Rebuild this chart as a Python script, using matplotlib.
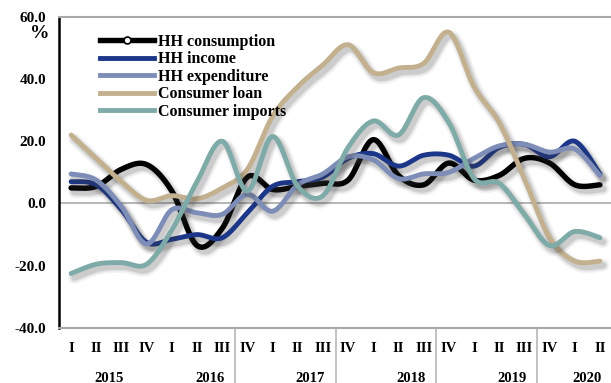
import numpy as np
import matplotlib
matplotlib.use("Agg")
import matplotlib.pyplot as plt
from matplotlib import patheffects as pe
from matplotlib.lines import Line2D
from matplotlib.transforms import blended_transform_factory

# ---- data (year-on-year growth, %) ----
quarters = ["I", "II", "III", "IV", "I", "II", "III", "IV", "I", "II", "III",
            "IV", "I", "II", "III", "IV", "I", "II", "III", "IV", "I", "II"]
years = ["2015", "2016", "2017", "2018", "2019", "2020"]
year_pos = [1.5, 5.5, 9.5, 13.5, 17.5, 20.5]
group_breaks = [6.5, 10.5, 14.5, 18.5]

hh_consumption = [5, 5.5, 11, 12.5, 4, -13.5, -8, 8.5, 4.5, 5.5, 6.5,
                  7.5, 20.5, 9, 6, 13, 7.5, 9, 14.5, 13, 6, 6]
hh_income = [7, 6, -2, -12.5, -11.5, -10, -11, -3, 5.5, 7, 8.5,
             14.5, 16, 12, 15.5, 15.5, 12, 18, 19, 15, 20, 9.5]
hh_expenditure = [9.5, 7.5, -1, -13, -2, -3, -3.5, 3, -2.5, 6, 9.5,
                  15, 14, 8, 9.5, 10, 14.5, 18.5, 19, 16.5, 17.5, 9]
consumer_loan = [22, 14.5, 7, 1, 2.5, 1.5, 5, 11, 28, 37.5, 44.5,
                 51, 42, 43.5, 45, 55, 37.5, 26, 8, -11, -18.5, -18.5]
consumer_imports = [-22.5, -19.5, -19, -19.5, -8.5, 7, 20, 4, 21.5, 5.5, 2.5,
                    18, 26.5, 22, 34, 26, 8, 6.5, -3.5, -13.5, -9, -11]

series = [
    ("HH consumption", hh_consumption, "#000000"),
    ("HH income", hh_income, "#1c3689"),
    ("HH expenditure", hh_expenditure, "#7d8db8"),
    ("Consumer loan", consumer_loan, "#c3b08e"),
    ("Consumer imports", consumer_imports, "#7eaaa7"),
]

SERIF = ["Liberation Serif", "DejaVu Serif"]


def smooth(values, steps=30):
    """Bezier smoothing through every point (spreadsheet-style smoothed line)."""
    y = np.asarray(values, dtype=float)
    x = np.arange(len(y), dtype=float)
    px = np.concatenate([[x[0]], x, [x[-1]]])
    py = np.concatenate([[y[0]], y, [y[-1]]])
    t = np.linspace(0.0, 1.0, steps, endpoint=False)
    xs, ys = [], []
    for i in range(len(y) - 1):
        for p, out in ((px, xs), (py, ys)):
            p0, p1, p2, p3 = p[i], p[i + 1], p[i + 2], p[i + 3]
            c1 = p1 + (p2 - p0) / 6.0
            c2 = p2 - (p3 - p1) / 6.0
            out.append((1 - t) ** 3 * p1 + 3 * (1 - t) ** 2 * t * c1
                       + 3 * (1 - t) * t ** 2 * c2 + t ** 3 * p2)
    xs.append([x[-1]])
    ys.append([y[-1]])
    return np.concatenate(xs), np.concatenate(ys)


W, H = 611, 383
fig = plt.figure(figsize=(W / 100, H / 100), dpi=100)
left, right, top, bottom = 58.5, 612.5, 16.7, 328.0
ax = fig.add_axes([left / W, 1 - bottom / H, (right - left) / W, (bottom - top) / H])

shadow = [
    pe.SimpleLineShadow(offset=(2.3, -3.0), shadow_color="#3a3a3a", alpha=0.06, linewidth=9),
    pe.SimpleLineShadow(offset=(2.3, -3.0), shadow_color="#3a3a3a", alpha=0.09, linewidth=6.5),
    pe.SimpleLineShadow(offset=(2.3, -3.0), shadow_color="#3a3a3a", alpha=0.13, linewidth=4.5),
    pe.Normal(),
]

ax.axhline(0, color="#b0b0b0", lw=1.3, zorder=1)

for name, vals, col in series:
    sx, sy = smooth(vals)
    lw = 3.9 if name == "HH consumption" else 3.5
    ax.plot(sx, sy, color=col, lw=lw, solid_capstyle="round",
            solid_joinstyle="round", path_effects=shadow, zorder=3)

ax.set_xlim(-0.5, 21.5)
ax.set_ylim(-40, 60)
ax.set_yticks(np.arange(-40, 61, 20))
ax.set_yticklabels([f"{v:.1f}" for v in np.arange(-40, 61, 20)],
                   fontfamily=SERIF, fontweight="bold", fontsize=11)
ax.set_xticks(range(len(quarters)))
ax.set_xticklabels(quarters, fontfamily=SERIF, fontweight="bold", fontsize=10.5)
ax.tick_params(axis="y", length=0, pad=9)
ax.tick_params(axis="x", length=0, pad=10)

for side in ("top", "bottom"):
    ax.spines[side].set_color("#a8a8a8")
    ax.spines[side].set_linewidth(1.5)
ax.spines["right"].set_color("#e4e4e4")
ax.spines["right"].set_linewidth(1.0)
ax.spines["left"].set_color("#000000")
ax.spines["left"].set_linewidth(1.8)

# year grouping below the quarter labels
trans = blended_transform_factory(ax.transData, ax.transAxes)
depth = (H - bottom) / (bottom - top)
for b in group_breaks:
    ax.add_line(Line2D([b, b], [0, -depth], transform=trans, color="#b8b8b8",
                       lw=1.2, clip_on=False))
for yr, xp in zip(years, year_pos):
    ax.text(xp, -(378 - bottom) / (bottom - top), yr, transform=trans,
            ha="center", va="center", fontfamily=SERIF, fontweight="bold",
            fontsize=10.5)

fig.text(40 / W, 1 - 33.5 / H, "%", ha="center", va="center",
         fontfamily=SERIF, fontweight="bold", fontsize=14)

handles = []
for name, vals, col in series:
    if name == "HH consumption":
        handles.append(Line2D([], [], color=col, lw=3.9, marker="o", ms=5,
                              mfc="white", mec=col, mew=1.2))
    else:
        handles.append(Line2D([], [], color=col, lw=3.5))
leg = fig.legend(handles, [s[0] for s in series], loc="upper left",
                 bbox_to_anchor=(100 / W, 1 - 34 / H), frameon=False,
                 prop={"family": SERIF, "weight": "bold", "size": 11.5},
                 handlelength=3.4, handletextpad=0.2, labelspacing=0.09,
                 borderpad=0.0, borderaxespad=0.0)

fig.savefig("out.png", dpi=100)
